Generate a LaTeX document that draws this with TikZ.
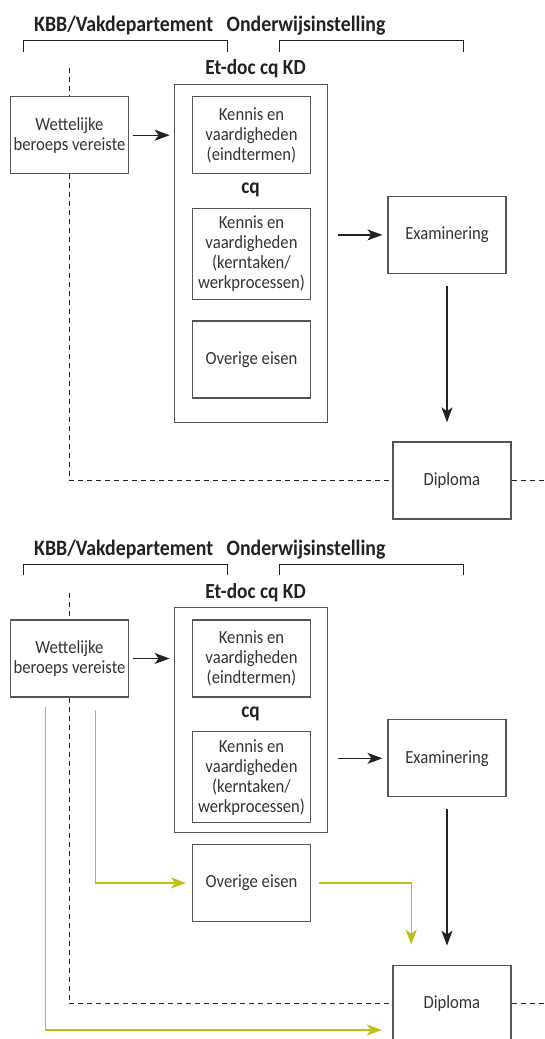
\documentclass[tikz,border=0pt]{standalone}
\usepackage{fontspec}
\setmainfont[FakeStretch=0.9]{Carlito}
\usetikzlibrary{arrows.meta}
\definecolor{ln}{HTML}{222222}
\definecolor{bx}{HTML}{555555}
\definecolor{yl}{HTML}{BFBF1A}
\definecolor{tx}{HTML}{333333}
\begin{document}
\begin{tikzpicture}[x=1pt,y=-1pt,
  box/.style={draw=bx,line width=1.2pt,minimum width=118pt,minimum height=77pt,inner sep=0pt,align=center,text=tx,font=\fontsize{18.5}{20}\selectfont},
  outerbox/.style={draw=bx,line width=1.2pt,minimum width=153pt,inner sep=0pt},
  arr/.style={draw=ln,line width=1.2pt,-{Stealth[length=15pt,width=11pt,inset=4pt]}},
  yarr/.style={draw=yl,line width=1.4pt,-{Stealth[length=15pt,width=11pt,inset=4pt]}},
  dsh/.style={draw=ln,line width=1pt,dash pattern=on 5pt off 4pt},
  brk/.style={draw=ln,line width=1.2pt},
  ttl/.style={font=\bfseries\fontsize{22}{24}\selectfont,text=ln,inner sep=0pt},
  lbl/.style={font=\bfseries\fontsize{21.5}{24}\selectfont,text=ln,inner sep=0pt}]
\useasboundingbox (0,0) rectangle (545,1039);
\clip (0,0) rectangle (545,1039);
% ---------------- top panel ----------------
\node[ttl] (t1a) at (123.7,26) {KBB/Vakdepartement};
\node[ttl] (t1b) at (306,26) {Onderwijsinstelling};
\draw[brk] (23.6,51.7) -- (23.6,40.7) -- (227.7,40.7) -- (227.7,51.7);
\draw[brk] (279.8,51.7) -- (279.8,40.7) -- (463.3,40.7) -- (463.3,51.7);
\node[lbl] (et1) at (255.6,69) {Et-doc cq KD};
\node[outerbox,minimum height=338pt] (out1) at (250.7,253.2) {};
\node[box] (wet1) at (69.5,135.2) {Wettelijke\\beroeps vereiste};
\node[box] (ka1) at (251.5,135.2) {Kennis en\\vaardigheden\\(eindtermen)};
\node[lbl] (cq1) at (250.6,190) {cq};
\node[box,minimum height=91pt] (kb1) at (251.5,253.8) {Kennis en\\vaardigheden\\(kerntaken/\\werkprocessen)};
\node[box] (ov1) at (251.5,359.5) {Overige eisen};
\node[box] (ex1) at (447,234.9) {Examinering};
\node[box] (dp1) at (451.9,480.4) {Diploma};
\coordinate (d1a) at (69.5,68.3);
\coordinate (d1b) at (69.5,480.4);
\coordinate (d1c) at (545,480.4);
\draw[arr,shorten <=4pt,shorten >=4pt] (wet1.east) -- (wet1.east -| out1.west);
\draw[arr,shorten <=10.5pt,shorten >=5pt] (ex1.west -| out1.east) -- (ex1.west);
\draw[arr,shorten <=12pt,shorten >=19pt] (ex1.south) -- (ex1.south |- dp1.north);
\draw[dsh] (d1a) -- (wet1.north);
\draw[dsh] (wet1.south) -- (d1b) -- (dp1.west);
\draw[dsh] (dp1.east) -- (d1c);
% ---------------- bottom panel ----------------
\node[ttl] (t2a) at (123.7,550) {KBB/Vakdepartement};
\node[ttl] (t2b) at (306,550) {Onderwijsinstelling};
\draw[brk] (23.6,575) -- (23.6,564.3) -- (227.7,564.3) -- (227.7,575);
\draw[brk] (279.8,575) -- (279.8,564.3) -- (463.3,564.3) -- (463.3,575);
\node[lbl] (et2) at (255.6,592.5) {Et-doc cq KD};
\node[outerbox,minimum height=225pt] (out2) at (250.7,720.2) {};
\node[box] (wet2) at (69.5,658.5) {Wettelijke\\beroeps vereiste};
\node[box] (ka2) at (251.5,658.5) {Kennis en\\vaardigheden\\(eindtermen)};
\node[lbl] (cq2) at (250.6,713.5) {cq};
\node[box,minimum height=91pt] (kb2) at (251.5,777.3) {Kennis en\\vaardigheden\\(kerntaken/\\werkprocessen)};
\node[box] (ov2) at (251.5,883) {Overige eisen};
\node[box] (ex2) at (447,758.3) {Examinering};
\node[box] (dp2) at (451.9,1003.7) {Diploma};
\coordinate (d2a) at (69.5,593);
\coordinate (d2b) at (69.5,1003.7);
\coordinate (d2c) at (545,1003.7);
\coordinate (y1a) at (45.2,706.7);
\coordinate (y1b) at (45.2,1030);
\coordinate (y2a) at (95.6,710);
\coordinate (y3a) at (411.2,883);
\draw[arr,shorten <=4pt,shorten >=4pt] (wet2.east) -- (wet2.east -| out2.west);
\draw[arr,shorten <=10.5pt,shorten >=5pt] (ex2.west -| out2.east) -- (ex2.west);
\draw[arr,shorten <=12pt,shorten >=19pt] (ex2.south) -- (ex2.south |- dp2.north);
\draw[dsh] (d2a) -- (wet2.north);
\draw[dsh] (wet2.south) -- (d2b) -- (dp2.west);
\draw[dsh] (dp2.east) -- (d2c);
\draw[yarr,shorten >=10.5pt] (y1a) -- (y1b) -- (y1b -| dp2.west);
\draw[yarr,shorten >=6pt] (y2a) -- (y2a |- ov2.west) -- (ov2.west);
\draw[yarr,shorten <=8.3pt,shorten >=20pt] (ov2.east) -- (y3a) -- (y3a |- dp2.north);
\end{tikzpicture}
\end{document}
